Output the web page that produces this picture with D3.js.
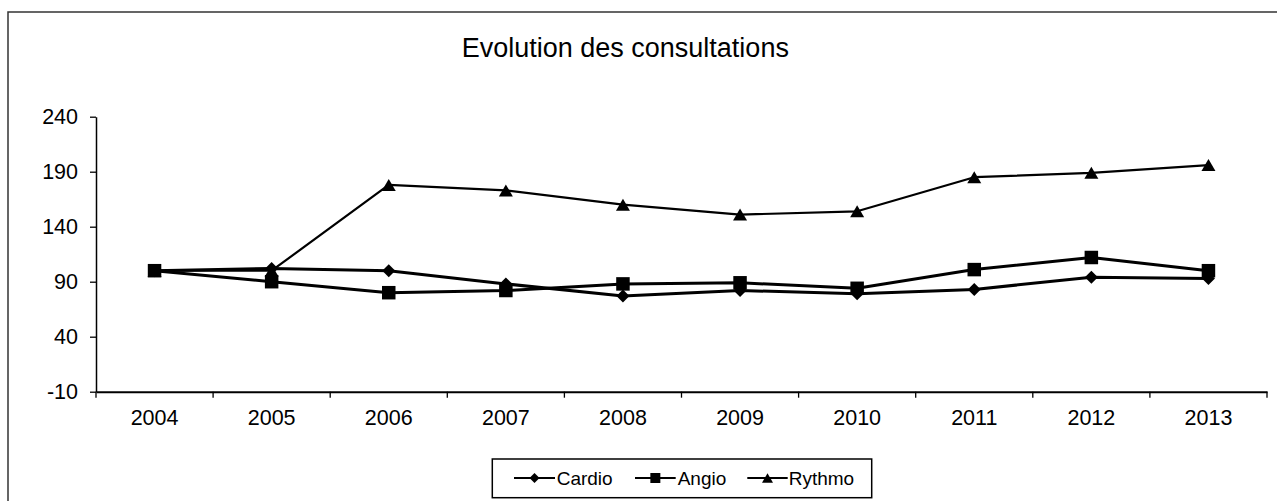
<!DOCTYPE html>
<html>
<head>
<meta charset="utf-8">
<script src="https://cdn.jsdelivr.net/npm/d3@7"></script>
<style>
  html, body { margin: 0; padding: 0; background: #fff; }
  svg { display: block; }
  text { font-family: "Liberation Sans", Arial, sans-serif; fill: #000; }
</style>
</head>
<body>
<svg id="chart" width="1277" height="501"></svg>
<script>
const years = ["2004","2005","2006","2007","2008","2009","2010","2011","2012","2013"];
const cardio = [100, 102, 100, 88, 77, 82, 79, 83, 94, 93];
const angio  = [100, 90, 80, 82, 88, 89, 84, 101, 112, 100];
const rythmo = [100, 100, 178, 173, 160, 151, 154, 185, 189, 196];
const yTicks = [-10, 40, 90, 140, 190, 240];
const seriesNames = ["Cardio", "Angio", "Rythmo"];
const titleText = "Evolution des consultations";

const svg = d3.select("#chart");

// custom Excel-like symbols
const diamondSym = { draw(ctx, size) { const r = Math.sqrt(size) / 2; ctx.moveTo(0, -r); ctx.lineTo(r, 0); ctx.lineTo(0, r); ctx.lineTo(-r, 0); ctx.closePath(); } };
const squareSym = { draw(ctx, size) { const r = Math.sqrt(size) / 2; ctx.rect(-r, -r, 2 * r, 2 * r); } };
const triSym = { draw(ctx, size) { const w = Math.sqrt(size); const h = w * 0.86; ctx.moveTo(0, -h / 2); ctx.lineTo(w / 2, h / 2); ctx.lineTo(-w / 2, h / 2); ctx.closePath(); } };

const series = [
  { name: seriesNames[0], values: cardio, sym: diamondSym, size: 13 * 13, lw: 3, lsize: 10 * 10 },
  { name: seriesNames[1], values: angio, sym: squareSym, size: 13.5 * 13.5, lw: 3, lsize: 10 * 10 },
  { name: seriesNames[2], values: rythmo, sym: triSym, size: 14 * 14, lw: 2.2, lsize: 11 * 11 }
];

// outer border (extends beyond right/bottom)
svg.append("rect").attr("x", 8).attr("y", 12).attr("width", 1400).attr("height", 700)
  .attr("fill", "none").attr("stroke", "#333").attr("stroke-width", 1.5);

// title
svg.append("text").attr("x", 625.3).attr("y", 56.7).attr("text-anchor", "middle")
  .style("font-size", "27px").text(titleText);

const x = d3.scaleBand().domain(years).range([96, 1267]).padding(0);
const y = d3.scaleLinear().domain([-10, 240]).range([391.7, 116.7]);

// y axis
const yAxis = svg.append("g").attr("transform", "translate(96,0)")
  .call(d3.axisLeft(y).tickValues(yTicks).tickFormat(d => String(d)).tickSize(6).tickPadding(12).tickSizeOuter(0));
yAxis.selectAll("text").style("font-size", "21.5px").style("font-family", "'Liberation Sans', Arial, sans-serif");
yAxis.select(".domain").attr("stroke-width", 1.5);
yAxis.selectAll(".tick line").attr("stroke-width", 1.3);

// x axis
const xAxis = svg.append("g").attr("transform", "translate(0,391.7)")
  .call(d3.axisBottom(x).tickSize(0).tickPadding(18).tickSizeOuter(0));
xAxis.selectAll("text").style("font-size", "21.5px").style("font-family", "'Liberation Sans', Arial, sans-serif");
xAxis.select(".domain").attr("stroke-width", 2);
const bounds = years.map(d => x(d)).concat([x.range()[1]]);
xAxis.selectAll(".bt").data(bounds).join("line").attr("class", "bt")
  .attr("x1", d => d).attr("x2", d => d).attr("y1", 0).attr("y2", 6)
  .attr("stroke", "#000").attr("stroke-width", 1.3);

const cx = (i) => x(years[i]) + x.bandwidth() / 2;
const line = d3.line().x((d, i) => cx(i)).y(d => y(d));

series.forEach(s => {
  svg.append("path").datum(s.values).attr("d", line)
    .attr("fill", "none").attr("stroke", "#000").attr("stroke-width", s.lw).attr("stroke-linejoin", "round");
  svg.append("g").selectAll("path").data(s.values).join("path")
    .attr("transform", (d, i) => `translate(${cx(i)},${y(d)})`)
    .attr("d", d3.symbol().type(s.sym).size(s.size)())
    .attr("fill", "#000");
});

// legend
const lg = svg.append("g");
lg.append("rect").attr("x", 492.3).attr("y", 459).attr("width", 379.4).attr("height", 38.7)
  .attr("fill", "#fff").attr("stroke", "#000").attr("stroke-width", 1.5);
const legendItems = [
  { x1: 514, x2: 555, tx: 556.7 },
  { x1: 635, x2: 675.7, tx: 677.7 },
  { x1: 747.3, x2: 787.7, tx: 788.7 }
];
series.forEach((s, k) => {
  const it = legendItems[k];
  const ly = 478;
  lg.append("line").attr("x1", it.x1).attr("x2", it.x2).attr("y1", ly).attr("y2", ly)
    .attr("stroke", "#000").attr("stroke-width", 2.2);
  lg.append("path").attr("transform", `translate(${(it.x1 + it.x2) / 2},${ly})`)
    .attr("d", d3.symbol().type(s.sym).size(s.lsize)()).attr("fill", "#000");
  lg.append("text").attr("x", it.tx).attr("y", 485).style("font-size", "19px").text(s.name);
});
</script>
</body>
</html>
